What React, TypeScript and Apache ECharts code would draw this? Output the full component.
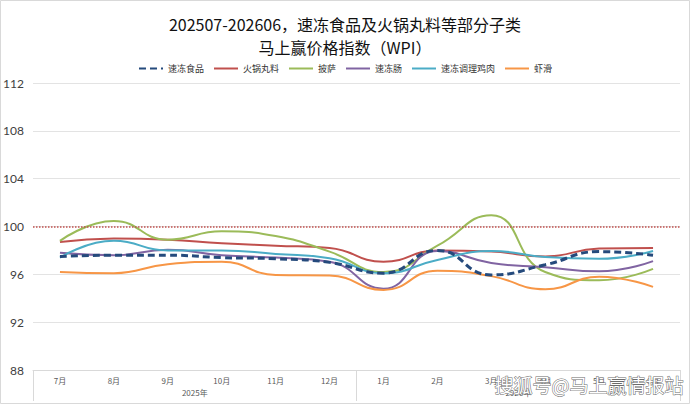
import * as echarts from "echarts"
import {useEffect, useRef} from "react"

const months = ['7月', '8月', '9月', '10月', '11月', '12月', '1月', '2月', '3月', '4月', '5月', '6月']
const years = ['2025年', '2026年']
const seriesNames = ['速冻食品', '火锅丸料', '披萨', '速冻肠', '速冻调理鸡肉', '虾滑']
const sdsp = [97.5, 97.6, 97.6, 97.4, 97.3, 97.0, 96.1, 98.0, 95.95, 96.8, 97.9, 97.6]
const hgwl = [98.7, 99.0, 98.9, 98.6, 98.4, 98.2, 97.05, 98.0, 97.9, 97.5, 98.15, 98.2]
const pisa = [98.8, 100.45, 98.9, 99.6, 99.2, 97.9, 96.2, 98.4, 100.95, 96.2, 95.5, 96.45]
const sdc = [97.8, 97.6, 98.05, 97.6, 97.4, 97.05, 94.8, 97.95, 96.95, 96.6, 96.25, 97.1]
const tljr = [97.4, 98.8, 98.0, 98.0, 97.7, 97.35, 96.1, 97.2, 97.95, 97.45, 97.3, 97.95]
const xiahua = [96.2, 96.1, 96.85, 97.05, 95.95, 95.9, 94.7, 96.3, 95.85, 94.75, 95.8, 94.95]
const baseLine = 100
const yTicks = {min: 88, max: 112, interval: 4}

const seriesData = [sdsp, hgwl, pisa, sdc, tljr, xiahua]
const colors = ['#254a7c', '#c0504d', '#9bbb59', '#8064a2', '#4bacc6', '#f79646']

const App = () => {
    const chartBoxRef = useRef<HTMLDivElement | null>(null)

    useEffect(() => {
        const chart = echarts.init(chartBoxRef.current, null, {renderer: 'svg'})
        const cjk = '"Noto Sans CJK SC", sans-serif'

        const series: any[] = seriesNames.map((name, i) => ({
            name,
            type: 'line',
            xAxisIndex: 0,
            data: seriesData[i],
            smooth: true,
            symbol: 'none',
            z: i === 0 ? 5 : 3,
            lineStyle: {
                color: colors[i],
                width: i === 0 ? 3 : 2,
                type: i === 0 ? [7, 4] : 'solid'
            },
            itemStyle: {color: colors[i]}
        }))
        series[0].markLine = {
            silent: true,
            symbol: 'none',
            label: {show: false},
            lineStyle: {color: '#c0504d', type: 'dotted', width: 1.5},
            data: [{yAxis: baseLine}]
        }

        chart.setOption({
            animation: false,
            color: colors,
            title: {
                text: '202507-202606，速冻食品及火锅丸料等部分子类\n马上赢价格指数（WPI）',
                left: 'center',
                top: 7,
                textStyle: {
                    fontFamily: cjk,
                    fontSize: 16,
                    lineHeight: 23,
                    fontWeight: 'normal',
                    color: '#111'
                }
            },
            legend: {
                data: seriesNames,
                top: 59,
                left: 'center',
                itemWidth: 24,
                itemHeight: 8,
                itemGap: 9,
                itemStyle: {opacity: 0},
                textStyle: {fontFamily: cjk, fontSize: 9, color: '#333'}
            },
            grid: {left: 33, right: 10, top: 83, bottom: 34},
            xAxis: [
                {
                    type: 'category',
                    data: months,
                    axisLine: {lineStyle: {color: '#d9d9d9'}},
                    axisTick: {show: false},
                    axisLabel: {fontSize: 8, color: '#595959', margin: 6, fontFamily: cjk}
                },
                {
                    type: 'category',
                    data: years,
                    position: 'bottom',
                    axisLine: {show: false},
                    axisTick: {show: true, length: 31, lineStyle: {color: '#d9d9d9'}},
                    axisLabel: {fontSize: 8, color: '#595959', margin: 18, fontFamily: cjk}
                }
            ],
            yAxis: {
                type: 'value',
                ...yTicks,
                axisLine: {show: false},
                axisTick: {show: false},
                axisLabel: {fontSize: 12, color: '#404040', margin: 9, fontFamily: 'Lato, sans-serif'},
                splitLine: {lineStyle: {color: '#e3e3e3'}}
            },
            graphic: [
                {
                    type: 'rect',
                    shape: {x: 0.5, y: 0.5, width: 689, height: 403},
                    style: {fill: 'none', stroke: '#d9d9d9', lineWidth: 1},
                    silent: true
                },
                {
                    type: 'text',
                    right: 6,
                    bottom: 10,
                    z: 100,
                    style: {
                        text: '搜狐号@马上赢情报站',
                        fontFamily: cjk,
                        fontSize: 19,
                        fill: '#ffffff',
                        stroke: '#6b6b6b',
                        lineWidth: 1
                    },
                    silent: true
                }
            ],
            series
        })

        return () => {
            chart.dispose()
        }
    }, [])

    return <div ref={chartBoxRef} style={{
        position: 'absolute', left: 0, top: 0, width: 690, height: 404, background: '#fff'
    }}></div>
}

export default App
